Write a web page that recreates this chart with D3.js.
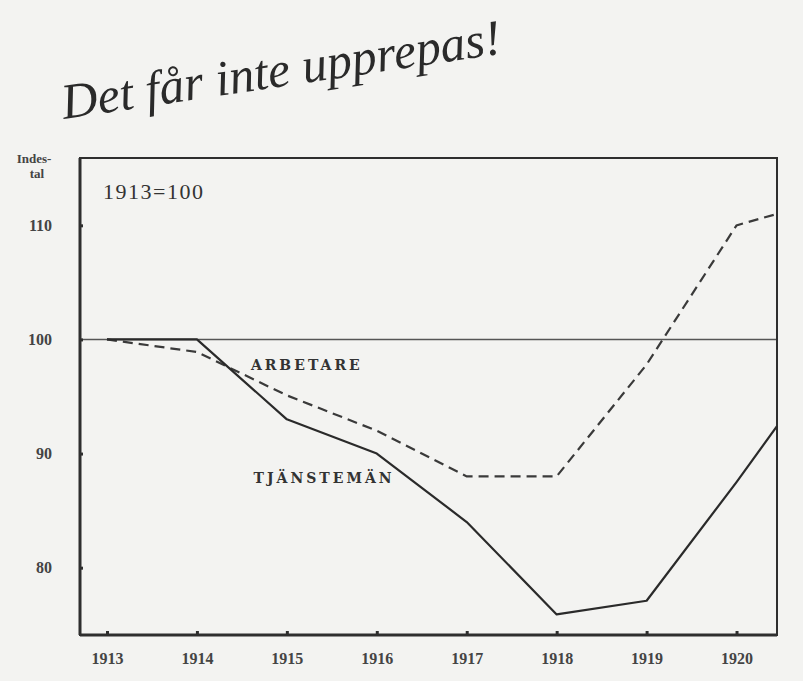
<!DOCTYPE html>
<html>
<head>
<meta charset="utf-8">
<script src="https://cdn.jsdelivr.net/npm/d3@7"></script>
<style>
  body { margin: 0; background: #f3f3f1; }
  svg { display: block; }
</style>
</head>
<body>
<svg id="chart" width="803" height="681"></svg>
<script>
// data (index, 1913 = 100)
const years = [1913, 1914, 1915, 1916, 1917, 1918, 1919, 1920, 1920.45];
const tjanstemanValues = [100, 100, 93, 90, 84, 75.9, 77.1, 87.5, 92.4];
const arbetareValues = [100, 98.9, 95.1, 92, 88, 88, 97.8, 110, 111];
const yearTicks = [1913, 1914, 1915, 1916, 1917, 1918, 1919, 1920];
const indexTicks = [80, 90, 100, 110];

drawChart();

function drawChart() {
  let leftMargin = 80,
    topMargin = 158,
    width = 697,
    height = 477;

  let svg = d3.select("#chart");
  let serif = "Liberation Serif";
  let ink = "#2e2e2e";

  // title, slanted like in the print
  svg
    .append("text")
    .attr("transform", "translate(64,119) rotate(-8.5)")
    .attr("font-family", serif)
    .attr("font-style", "italic")
    .attr("font-size", 50)
    .attr("fill", "#2a2a2a")
    .text("Det får inte upprepas!");

  let xScale = d3.scaleLinear().domain([1912.7, 1920.45]).range([0, width]);
  let yScale = d3.scaleLinear().domain([74.1, 115.9]).range([height, 0]);

  let g = svg
    .append("g")
    .attr("transform", `translate(${leftMargin},${topMargin})`);

  // reference line at 100
  g.append("line")
    .attr("x1", 0)
    .attr("x2", width)
    .attr("y1", yScale(100))
    .attr("y2", yScale(100))
    .attr("stroke", "#555")
    .attr("stroke-width", 1.4);

  // frame
  g.append("rect")
    .attr("x", 0)
    .attr("y", 0)
    .attr("width", width)
    .attr("height", height)
    .attr("fill", "none")
    .attr("stroke", ink)
    .attr("stroke-width", 2);
  g.append("line")
    .attr("x1", 0).attr("x2", 0)
    .attr("y1", 0).attr("y2", height)
    .attr("stroke", ink).attr("stroke-width", 3);
  g.append("line")
    .attr("x1", 0).attr("x2", width)
    .attr("y1", height).attr("y2", height)
    .attr("stroke", ink).attr("stroke-width", 3);

  // x axis
  let xAxis = d3
    .axisBottom(xScale)
    .tickValues(yearTicks)
    .tickFormat(d3.format("d"))
    .tickSizeInner(-4)
    .tickSizeOuter(0)
    .tickPadding(18);
  let gx = g
    .append("g")
    .attr("transform", `translate(0,${height})`)
    .call(xAxis);
  gx.select(".domain").remove();
  gx.selectAll("line").attr("stroke", ink).attr("stroke-width", 3);
  gx.selectAll("text")
    .attr("font-family", serif)
    .attr("font-size", 16)
    .attr("font-weight", "bold")
    .attr("fill", "#444");

  // y axis
  let yAxis = d3
    .axisLeft(yScale)
    .tickValues(indexTicks)
    .tickSizeInner(-3)
    .tickSizeOuter(0)
    .tickPadding(28);
  let gy = g.append("g").call(yAxis);
  gy.select(".domain").remove();
  gy.selectAll("line").attr("stroke", ink).attr("stroke-width", 3);
  gy.selectAll("text")
    .attr("font-family", serif)
    .attr("font-size", 16)
    .attr("font-weight", "bold")
    .attr("fill", "#444");

  // axis title
  let axisTitle = svg
    .append("text")
    .attr("y", 163)
    .attr("text-anchor", "middle")
    .attr("font-family", serif)
    .attr("font-size", 13)
    .attr("font-weight", "bold")
    .attr("fill", "#444");
  axisTitle.append("tspan").attr("x", 34).text("Indes-");
  axisTitle.append("tspan").attr("x", 37).attr("dy", 15).text("tal");

  // base note
  g.append("text")
    .attr("x", 23)
    .attr("y", 41)
    .attr("font-family", serif)
    .attr("font-size", 22)
    .attr("letter-spacing", 1.5)
    .attr("fill", "#333")
    .text("1913=100");

  let line = (vals) =>
    d3
      .line()
      .x((d, i) => xScale(years[i]))
      .y((d) => yScale(d))(vals);

  g.append("path")
    .attr("d", line(arbetareValues))
    .attr("fill", "none")
    .attr("stroke", "#3a3a3a")
    .attr("stroke-width", 2.2)
    .attr("stroke-dasharray", "10,6");

  g.append("path")
    .attr("d", line(tjanstemanValues))
    .attr("fill", "none")
    .attr("stroke", "#2a2a2a")
    .attr("stroke-width", 2.2)
    .attr("stroke-linejoin", "round");

  // series labels
  let labels = [
    { name: "ARBETARE", year: 1914.6, value: 97.3 },
    { name: "TJÄNSTEMÄN", year: 1914.63, value: 87.4 }
  ];
  g.selectAll(".series-label")
    .data(labels)
    .enter()
    .append("text")
    .attr("class", "series-label")
    .attr("x", (d) => xScale(d.year))
    .attr("y", (d) => yScale(d.value))
    .attr("font-family", "DejaVu Serif")
    .attr("font-size", 14)
    .attr("font-weight", "bold")
    .attr("letter-spacing", 3)
    .attr("fill", "#333")
    .text((d) => d.name);
}
</script>
</body>
</html>
